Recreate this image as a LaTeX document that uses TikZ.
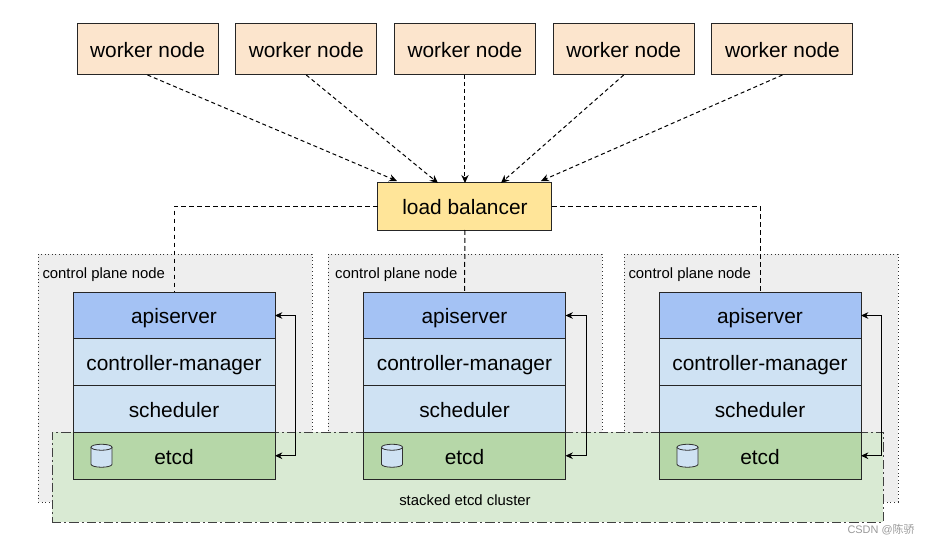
\documentclass[tikz,border=0pt]{standalone}
\usepackage{fontspec}
\setmainfont{Liberation Sans}
\newfontfamily\cjkfont{Noto Sans CJK SC}
\usetikzlibrary{arrows.meta,positioning,calc}
\definecolor{workerfill}{HTML}{FCE5CD}
\definecolor{lbfill}{HTML}{FFE599}
\definecolor{apifill}{HTML}{A4C2F4}
\definecolor{cmfill}{HTML}{CFE2F3}
\definecolor{etcdfill}{HTML}{B6D7A8}
\definecolor{clusterfill}{HTML}{D9EAD3}
\definecolor{cpfill}{HTML}{EEEEEE}
\tikzset{
  bloc/.style={draw=black!85,line width=0.75pt,align=center,outer sep=0pt,inner sep=0pt,
    text height=14.6pt,text depth=2.2pt,font=\fontsize{15.65}{18}\selectfont},
  worker/.style={bloc,fill=workerfill,minimum width=105.75pt,minimum height=38.25pt},
  lbbox/.style={bloc,fill=lbfill,minimum width=130.5pt,minimum height=35.25pt},
  layer/.style={bloc,minimum width=151.5pt,minimum height=35.06pt},
  cpbox/.style={draw=black!80,dotted,line width=0.7pt,fill=cpfill,minimum width=205.5pt,minimum height=186pt,outer sep=0pt},
  lbl/.style={font=\fontsize{11.15}{13}\selectfont,inner sep=0pt},
  fl/.style={line width=0.75pt,-{Stealth[length=6pt,width=5.5pt]},dash pattern=on 3pt off 2.2pt},
  lnk/.style={line width=0.75pt,dash pattern=on 3.6pt off 2.4pt},
  ret/.style={line width=0.75pt,{Stealth[length=5.5pt,width=5pt]}-{Stealth[length=5.5pt,width=5pt]}},
  dbicon/.style={draw=black!80,fill=cmfill,line width=0.6pt},
}
\begin{document}
\begin{tikzpicture}[x=0.75pt,y=-0.75pt,node distance=13.3pt]
  \useasboundingbox (0,0) rectangle (930,545);
  % workers along the top
  \node[worker] (w1) at (147.5,49.5) {worker node};
  \node[worker,right=of w1] (w2) {worker node};
  \node[worker,right=of w2] (w3) {worker node};
  \node[worker,right=of w3] (w4) {worker node};
  \node[worker,right=of w4] (w5) {worker node};
  \node[lbbox,below=81pt of w3] (lb) {load balancer};
  % control plane backgrounds
  \node[cpbox] (cp1) at (175,378) {};
  \node[cpbox] (cp2) at (465,378) {};
  \node[cpbox] (cp3) at (761,378) {};
  \foreach \n/\dx in {1/3.2pt,2/5.2pt,3/3.2pt}
    \node[lbl,below right=10pt and \dx of cp\n.north west] (cpl\n) {control plane node};
  % etcd cluster sits over the backgrounds
  \node[draw=black!75,fill=clusterfill,line width=0.7pt,dash pattern=on 7pt off 2.2pt on 1.6pt off 2.2pt,
    minimum width=623.25pt,minimum height=67.5pt,outer sep=0pt] (cluster) at (467.5,477) {};
  \node[lbl] (clusterlbl) at (465,500) {stacked etcd cluster};
  % the three stacks
  \foreach \n/\x in {1/174,2/464.5,3/760}{
    \node[layer,fill=apifill] (api\n) at (\x,315.5) {apiserver};
    \node[layer,fill=cmfill,below=0pt of api\n] (cm\n) {controller-manager};
    \node[layer,fill=cmfill,below=0pt of cm\n] (sch\n) {scheduler};
    \node[layer,fill=etcdfill,below=0pt of sch\n] (etcd\n) {etcd};
    \coordinate[right=21.4pt of etcd\n.west] (db\n);
    \draw[dbicon] ($(db\n)+(-10.5,-8.5)$) -- ++(0,17) arc[start angle=180,end angle=0,x radius=10.5,y radius=3] -- ++(0,-17) -- cycle;
    \draw[dbicon] ($(db\n)+(0,-8.5)$) ellipse [x radius=10.5,y radius=3];
    \draw[ret] (etcd\n.east) -- ++(20.5,0) |- (api\n.east);
  }
  % worker traffic into the balancer
  \draw[fl] (w1.south) -- ($(lb.north west)+(19,-2)$);
  \draw[fl] (w2.south) -- ($(lb.north west)+(60,0)$);
  \draw[fl] (w3.south) -- (lb.north);
  \draw[fl] (w4.south) -- ($(lb.north east)+(-51,0)$);
  \draw[fl] (w5.south) -- ($(lb.north east)+(-11,-2)$);
  % balancer down to each apiserver
  \draw[lnk] (lb.west) -| (api1.north);
  \draw[lnk] (lb.south) -- (api2.north);
  \draw[lnk] (lb.east) -| (api3.north);
  \node[font=\fontsize{8.2}{10}\selectfont,text=black!40,inner sep=0pt] (mark) at (881,530) {CSDN @{\cjkfont 陈骄}};
\end{tikzpicture}
\end{document}
